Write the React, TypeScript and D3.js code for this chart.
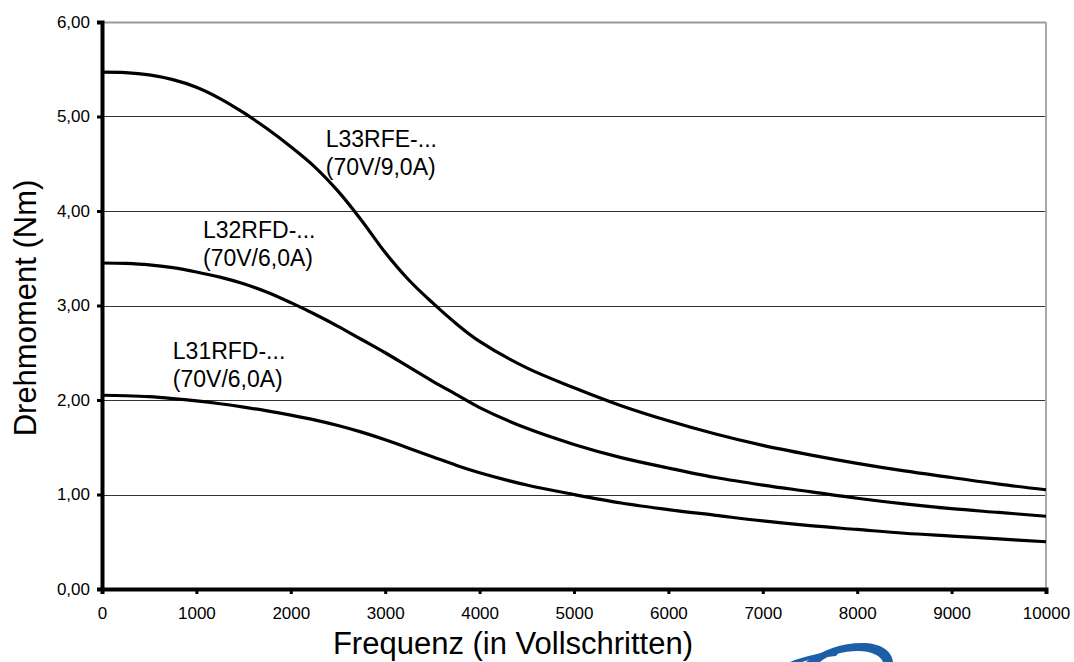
import React, { useEffect, useRef } from "react";
import * as d3 from "d3";

// frequency steps (full steps) shared by all curves
const freq = [
  0, 250, 500, 750, 1000, 1250, 1500, 1750, 2000, 2250, 2500, 2750, 3000, 3250, 3500, 3750, 4000,
  4500, 5000, 5500, 6000, 6500, 7000, 7500, 8000, 8500, 9000, 9500, 10000,
];

const torqueL33 = [
  5.47, 5.465, 5.44, 5.39, 5.31, 5.19, 5.04, 4.87, 4.68, 4.47, 4.21, 3.9, 3.56, 3.27, 3.03, 2.81,
  2.62, 2.34, 2.13, 1.94, 1.78, 1.64, 1.52, 1.42, 1.33, 1.25, 1.18, 1.11, 1.05,
];
const torqueL32 = [
  3.45, 3.445, 3.43, 3.4, 3.355, 3.3, 3.23, 3.14, 3.03, 2.91, 2.78, 2.64, 2.5, 2.35, 2.2, 2.06, 1.92,
  1.7, 1.53, 1.39, 1.28, 1.18, 1.1, 1.03, 0.96, 0.9, 0.85, 0.81, 0.77,
];
const torqueL31 = [
  2.05, 2.045, 2.035, 2.015, 1.99, 1.96, 1.925, 1.885, 1.84, 1.79, 1.73, 1.66, 1.58, 1.49, 1.4, 1.31,
  1.23, 1.1, 1.0, 0.91, 0.84, 0.78, 0.72, 0.67, 0.63, 0.59, 0.56, 0.53, 0.5,
];

const seriesNames = ["L33RFE-...", "L32RFD-...", "L31RFD-..."];
const seriesSubs = ["(70V/9,0A)", "(70V/6,0A)", "(70V/6,0A)"];
// where each label sits, in data units (freq, torque)
const labelAnchors: [number, number][] = [
  [2370, 4.68],
  [1070, 3.71],
  [750, 2.43],
];

const yTicks = [0, 1, 2, 3, 4, 5, 6];
const xTicks = [0, 1000, 2000, 3000, 4000, 5000, 6000, 7000, 8000, 9000, 10000];

const font = "'Liberation Sans', Arial, sans-serif";

const App = () => {
  const ref = useRef<SVGSVGElement | null>(null);
  const width = 1074;
  const height = 662;
  const margin = { top: 22, right: 28, bottom: 73, left: 102 };

  useEffect(() => {
    const svg = d3.select(ref.current);
    svg.selectAll("*").remove();

    const x = d3.scaleLinear().domain([0, 10000]).range([margin.left, width - margin.right]);
    const y = d3.scaleLinear().domain([0, 6]).range([height - margin.bottom, margin.top]);

    // horizontal grid lines
    svg
      .append("g")
      .selectAll("line")
      .data(yTicks.slice(1))
      .enter()
      .append("line")
      .attr("x1", x(0))
      .attr("x2", x(10000))
      .attr("y1", (d) => Math.round(y(d)) + 0.5)
      .attr("y2", (d) => Math.round(y(d)) + 0.5)
      .attr("stroke", (d) => (d === 6 ? "#999" : "#333"))
      .attr("stroke-width", (d) => (d === 6 ? 2 : 1));

    // right border
    svg
      .append("line")
      .attr("x1", x(10000))
      .attr("x2", x(10000))
      .attr("y1", y(6))
      .attr("y2", y(0))
      .attr("stroke", "#aaa")
      .attr("stroke-width", 2);

    // curves
    const line = d3
      .line<number>()
      .x((_, i) => x(freq[i]))
      .y((d) => y(d))
      .curve(d3.curveCatmullRom.alpha(0.5));

    [torqueL33, torqueL32, torqueL31].forEach((s) => {
      svg
        .append("path")
        .datum(s)
        .attr("fill", "none")
        .attr("stroke", "#000")
        .attr("stroke-width", 3.2)
        .attr("d", line);
    });

    // y axis
    const yAxis = svg
      .append("g")
      .attr("transform", `translate(${x(0)},0)`)
      .call(
        d3
          .axisLeft(y)
          .tickValues(yTicks)
          .tickSize(5)
          .tickPadding(7)
          .tickFormat((d) => d3.format(".2f")(d as number).replace(".", ","))
      );
    yAxis.select(".domain").attr("stroke-width", 4).attr("stroke", "#000");
    yAxis.selectAll(".tick line").attr("stroke-width", 3).attr("stroke", "#000");
    yAxis
      .selectAll(".tick text")
      .attr("font-family", font)
      .attr("font-size", 17)
      .attr("fill", "#000");

    // x axis
    const xAxis = svg
      .append("g")
      .attr("transform", `translate(0,${y(0)})`)
      .call(
        d3
          .axisBottom(x)
          .tickValues(xTicks)
          .tickSize(5)
          .tickPadding(13)
          .tickFormat((d) => d3.format("d")(d as number))
      );
    xAxis.select(".domain").attr("stroke-width", 4).attr("stroke", "#000");
    xAxis.selectAll(".tick line").attr("stroke-width", 3).attr("stroke", "#000");
    xAxis
      .selectAll(".tick text")
      .attr("font-family", font)
      .attr("font-size", 17)
      .attr("fill", "#000");

    // series labels
    const labels = svg.append("g").attr("font-family", font).attr("font-size", 23).attr("fill", "#000");
    labelAnchors.forEach(([fx, fy], i) => {
      const t = labels.append("text").attr("x", x(fx)).attr("y", y(fy));
      t.append("tspan").attr("x", x(fx)).text(seriesNames[i]);
      t.append("tspan").attr("x", x(fx)).attr("dy", 28).text(seriesSubs[i]);
    });

    // axis titles
    svg
      .append("text")
      .attr("x", 513)
      .attr("y", 654)
      .attr("text-anchor", "middle")
      .attr("font-family", font)
      .attr("font-size", 31)
      .text("Frequenz (in Vollschritten)");

    svg
      .append("text")
      .attr("transform", "translate(36,308) rotate(-90)")
      .attr("text-anchor", "middle")
      .attr("font-family", font)
      .attr("font-size", 31)
      .text("Drehmoment (Nm)");

    // logo fragment at the bottom edge
    const logo = svg.append("g").attr("fill", "#1d5ea8");
    logo
      .append("path")
      .attr(
        "d",
        "M806,662 C822,650 842,643 862,643 C881,643 892,651 893,662 L883,662 C880,655 871,651 858,651 C843,651 828,655 820,662 Z"
      );
    logo
      .append("path")
      .attr("d", "M790,662 C805,656 822,652 840,651 L836,656 C823,657 810,659 802,662 Z");
  }, []);

  return (
    <svg
      ref={ref}
      width={width}
      height={height}
      style={{ position: "absolute", left: 0, top: 0, background: "#fff", display: "block" }}
    />
  );
};

export default App;
